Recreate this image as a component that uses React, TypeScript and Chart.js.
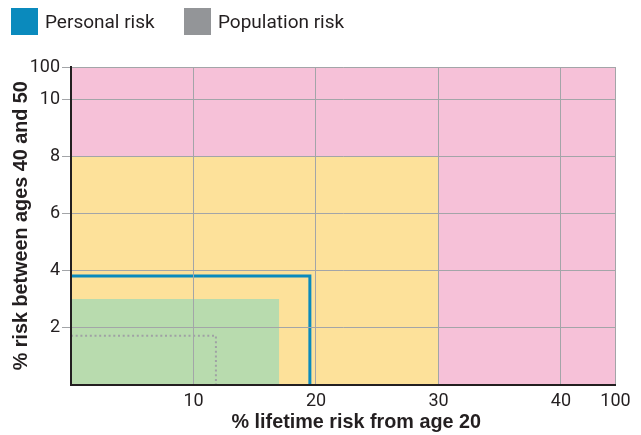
import React, { useEffect, useRef } from "react";
import { Chart, registerables } from "chart.js";

Chart.register(...registerables);

// Axis extents (the "100" end of each axis is drawn compressed)
const X_END = 44.45;
const Y_END = 11.15;

// Tick values and labels
const xTickValues = [10, 20, 30, 40, X_END];
const xTickLabels = ["10", "20", "30", "40", "100"];
const yTickValues = [2, 4, 6, 8, 10, Y_END];
const yTickLabels = ["2", "4", "6", "8", "10", "100"];

// Risk zones: lifetime risk (x) and 10-year risk (y) boundaries
const zoneNames = ["High risk", "Moderate risk", "Near population risk"];
const zoneLifetime = [X_END, 30, 17];
const zoneTenYear = [Y_END, 8, 3];
const zoneColors = ["#f6c1d8", "#fde19a", "#b8dbae"];

// Personal and population risk
const seriesNames = ["Personal risk", "Population risk"];
const seriesLifetime = [19.5, 11.83];
const seriesTenYear = [3.81, 1.71];
const seriesColors = ["#0a8abd", "#939598"];

const xTitle = "% lifetime risk from age 20";
const yTitle = "% risk between ages 40 and 50";

const TEXT = "#231f20";

const xTitlePlugin = {
  id: "xTitle",
  afterDraw(chart: any) {
    const { ctx, chartArea } = chart;
    ctx.save();
    ctx.font = "bold 19.8px 'Liberation Sans'";
    ctx.fillStyle = TEXT;
    ctx.textAlign = "center";
    ctx.textBaseline = "middle";
    ctx.fillText(xTitle, (chartArea.left + chartArea.right) / 2 + 13, chart.height - 12);
    ctx.restore();
  },
};

export default function App() {
  const canvasRef = useRef<HTMLCanvasElement | null>(null);

  useEffect(() => {
    const canvas = canvasRef.current;
    if (!canvas) return;

    const zoneSets = zoneNames.map((name, i) => ({
      label: name,
      data: [
        { x: 0, y: zoneTenYear[i] },
        { x: zoneLifetime[i], y: zoneTenYear[i] },
      ],
      backgroundColor: zoneColors[i],
      borderWidth: 0,
      pointRadius: 0,
      fill: "origin",
      order: 10 - i,
    }));

    const riskSets = seriesNames.map((name, i) => ({
      label: name,
      data: [
        { x: 0, y: seriesTenYear[i] },
        { x: seriesLifetime[i], y: seriesTenYear[i] },
        { x: seriesLifetime[i], y: 0 },
      ],
      borderColor: i === 0 ? seriesColors[0] : "#9fa1a4",
      borderWidth: i === 0 ? 3 : 2,
      borderDash: i === 0 ? [] : [2, 2.7],
      borderCapStyle: "butt",
      pointRadius: 0,
      fill: false,
      order: 1 - i,
    }));

    const chart = new Chart(canvas, {
      type: "line",
      data: { datasets: [...zoneSets, ...riskSets] as any },
      plugins: [xTitlePlugin],
      options: {
        responsive: false,
        animation: false,
        devicePixelRatio: 1,
        layout: { padding: { top: 67, right: 25.5, left: 0, bottom: 0 } },
        plugins: {
          legend: { display: false },
          tooltip: { enabled: false },
        },
        elements: { line: { tension: 0 } },
        scales: {
          x: {
            type: "linear",
            min: 0,
            max: X_END,
            afterFit: (s: any) => {
              s.height = 50.5;
            },
            afterBuildTicks: (s: any) => {
              s.ticks = xTickValues.map((v) => ({ value: v }));
            },
            ticks: {
              callback: (v: any) => xTickLabels[xTickValues.indexOf(Number(v))] ?? "",
              font: { family: "Roboto", size: 18 },
              color: TEXT,
              padding: 6,
              maxRotation: 0,
              autoSkip: false,
            },
            grid: { color: "#a3a5a8", lineWidth: 1, drawTicks: false, z: 1 },
            border: { color: TEXT, width: 2, z: 2 },
            title: { display: false },
          },
          y: {
            type: "linear",
            min: 0,
            max: Y_END,
            afterFit: (s: any) => {
              s.width = 71;
            },
            afterBuildTicks: (s: any) => {
              s.ticks = yTickValues.map((v) => ({ value: v }));
            },
            ticks: {
              callback: (v: any) => yTickLabels[yTickValues.indexOf(Number(v))] ?? "",
              font: { family: "Roboto", size: 18 },
              color: TEXT,
              padding: 2,
              autoSkip: false,
            },
            grid: { color: "#a3a5a8", lineWidth: 1, drawTicks: true, tickLength: 9, z: 1 },
            border: { color: TEXT, width: 2, z: 2 },
            title: {
              display: true,
              text: yTitle,
              font: { family: "Liberation Sans", size: 19.8, weight: "bold" },
              color: TEXT,
              padding: { top: 10, bottom: 0 },
            },
          },
        },
      } as any,
    });

    return () => chart.destroy();
  }, []);

  const legendItem = (i: number, left: number) => (
    <div
      key={i}
      style={{
        position: "absolute",
        left,
        top: 8,
        height: 27,
        display: "flex",
        alignItems: "center",
        fontFamily: "Roboto",
        fontSize: 19,
        color: TEXT,
        whiteSpace: "nowrap",
      }}
    >
      <span
        style={{
          display: "inline-block",
          width: 27,
          height: 27,
          background: seriesColors[i],
          marginRight: 7,
        }}
      />
      {seriesNames[i]}
    </div>
  );

  return (
    <div style={{ position: "absolute", left: 0, top: 0, width: 641, height: 435, background: "#fff" }}>
      <canvas ref={canvasRef} width={641} height={435} style={{ width: 641, height: 435, display: "block" }} />
      {legendItem(0, 11)}
      {legendItem(1, 184)}
    </div>
  );
}
